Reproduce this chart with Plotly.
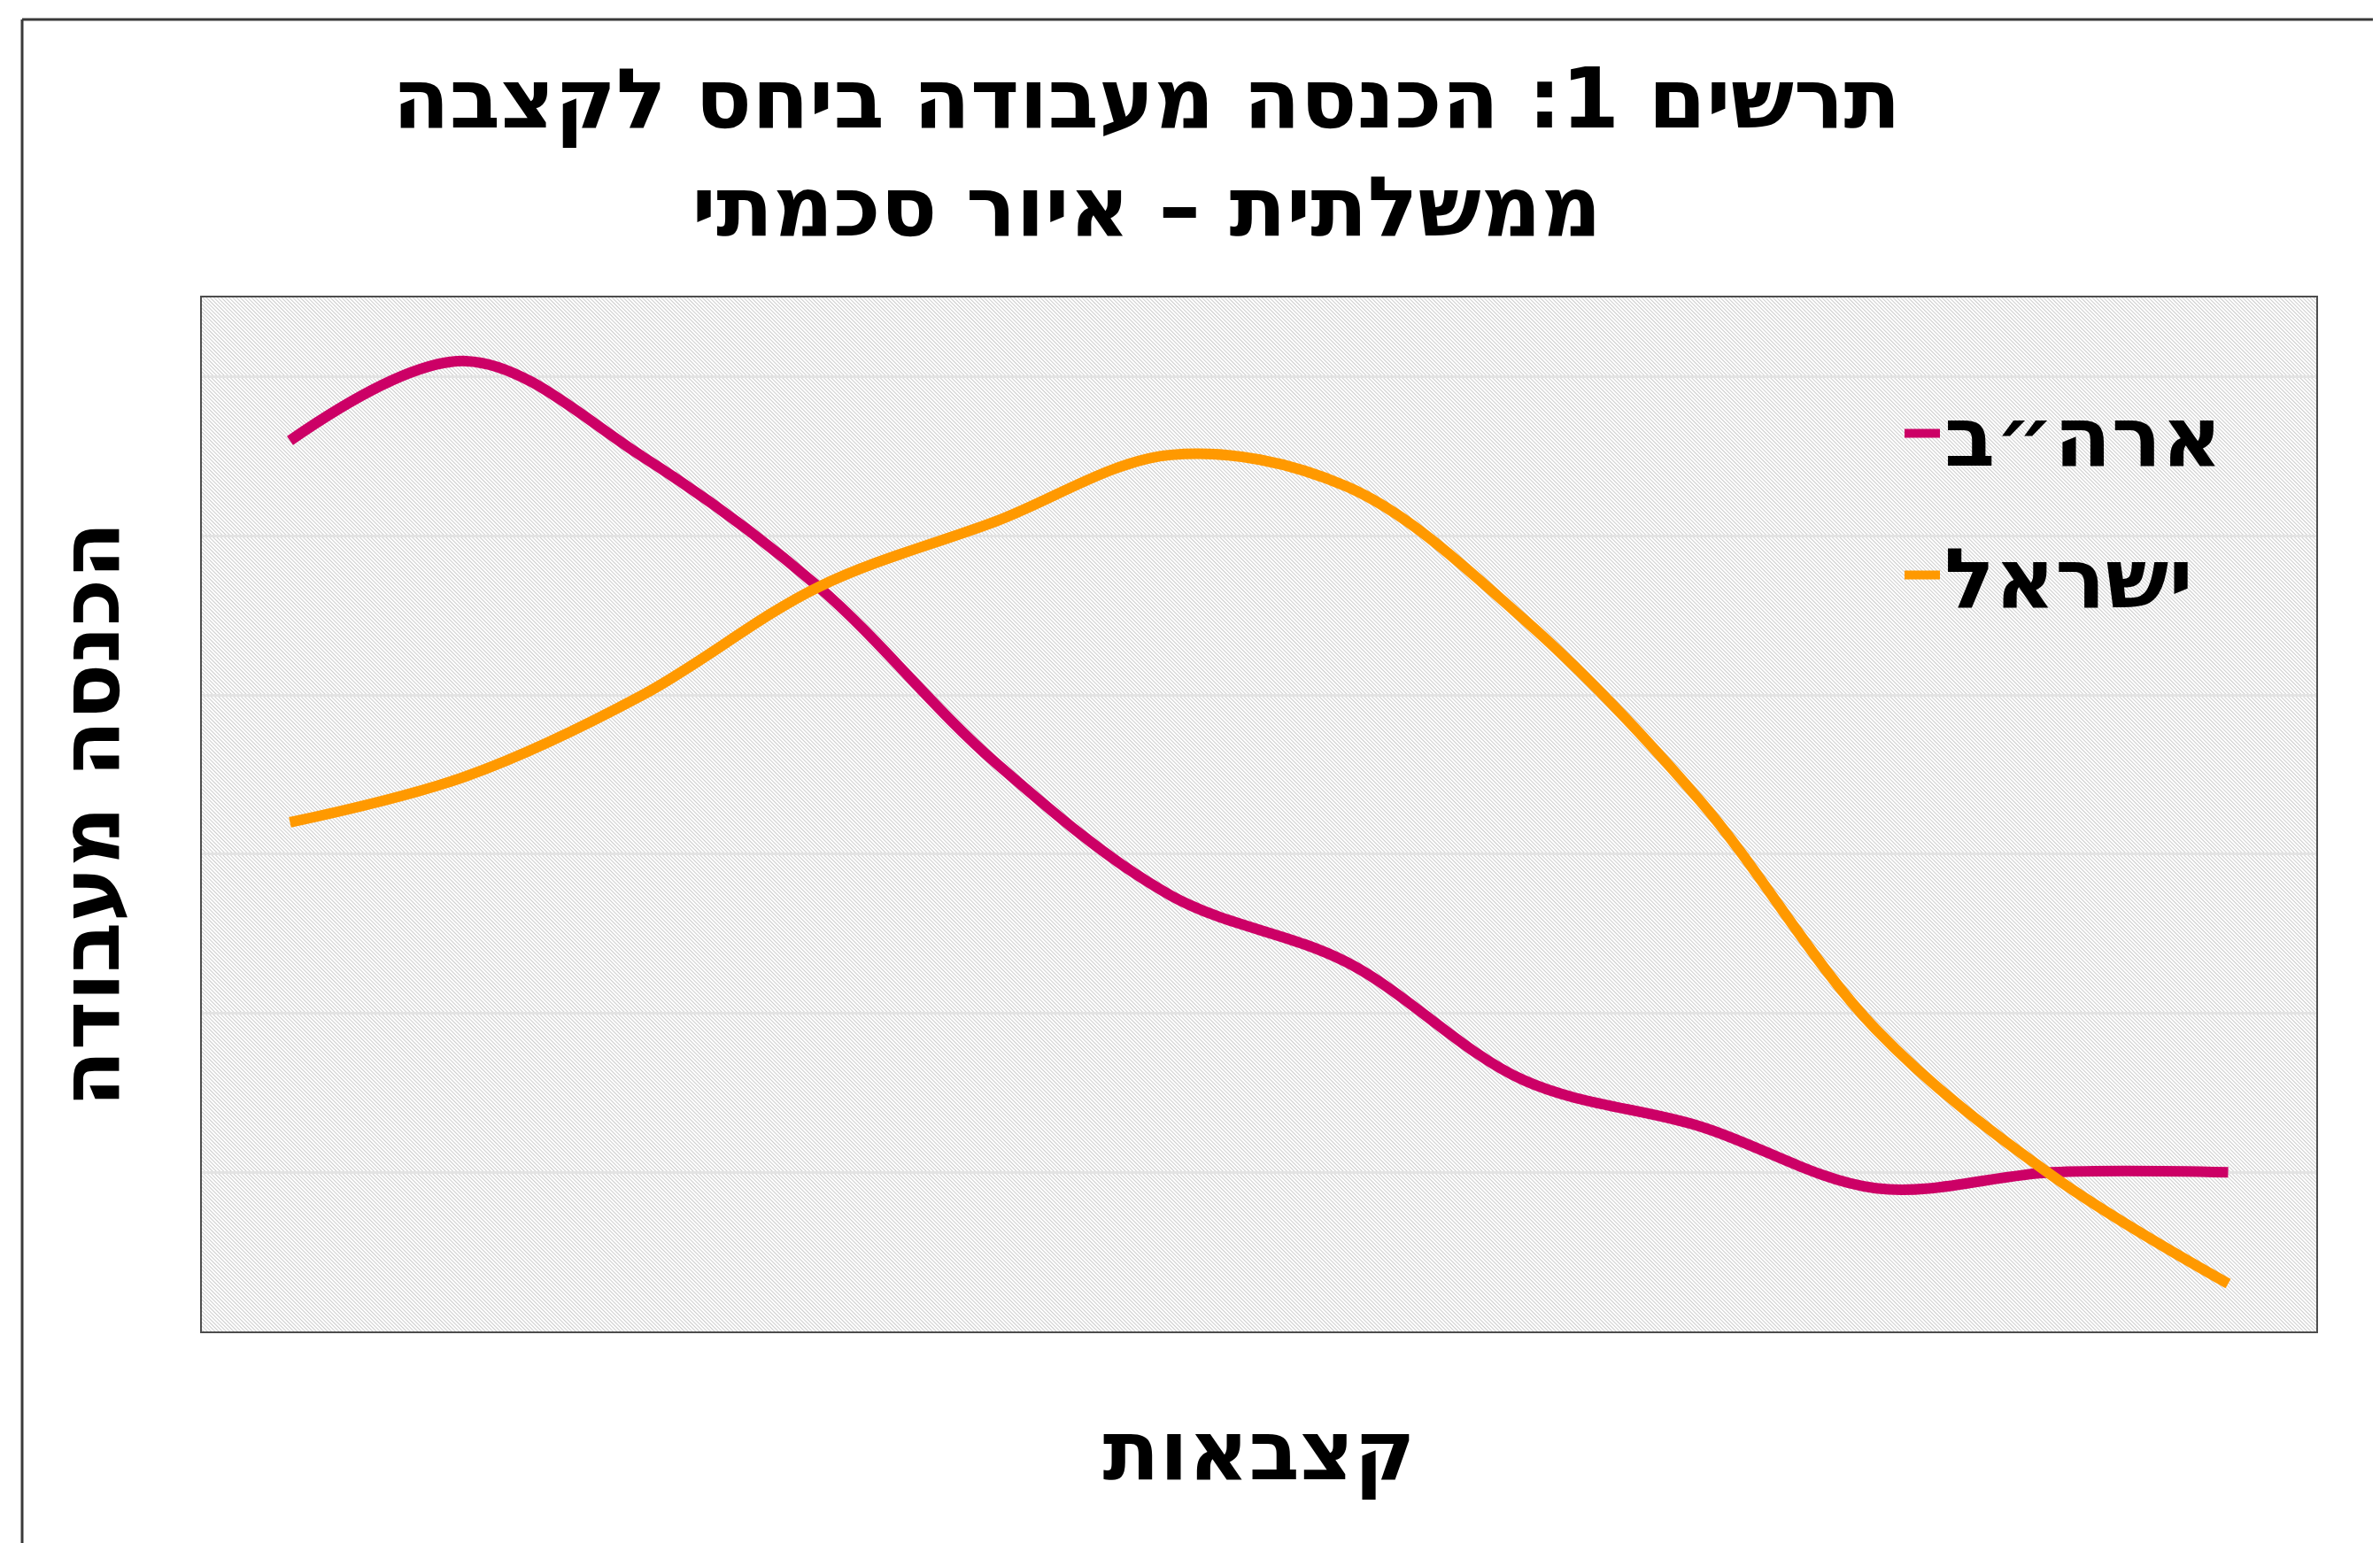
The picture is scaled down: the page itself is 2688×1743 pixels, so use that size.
import base64
import plotly.graph_objects as go

# ---- data ----
categories = list(range(1, 13))
usa_values = [5.60, 6.10, 5.50, 4.68, 3.58, 2.74, 2.32, 1.58, 1.29, 0.90, 1.00, 1.00]
israel_values = [3.20, 3.49, 4.00, 4.68, 5.09, 5.51, 5.31, 4.48, 3.34, 1.90, 0.98, 0.30]
series_names = ["ארה״ב", "ישראל"]
title_text = "תרשים 1: הכנסה מעבודה ביחס לקצבה<br>ממשלתית – איור סכמתי"
x_title = "קצבאות"
y_title = "הכנסה מעבודה"

X_RANGE = [categories[0] - 0.5, categories[-1] + 0.5]
Y_RANGE = [0, 6.5]

# page geometry (the html body adds an 8px margin)
OFF = 8
PAGE_W, PAGE_H = 2688, 1743
W, H = PAGE_W - OFF, PAGE_H - OFF
PLOT_L, PLOT_R, PLOT_T, PLOT_B = 228, 2616, 336, 1504  # page px
ML = PLOT_L - OFF
MT = PLOT_T - OFF
MR = W - (PLOT_R - OFF)
MB = H - (PLOT_B - OFF)
plot_w = PLOT_R - PLOT_L
plot_h = PLOT_B - PLOT_T

def px_x(p):
    return (p - PLOT_L) / plot_w

def px_y(p):
    return (PLOT_B - p) / plot_h

FONT = "DejaVu Sans"
PINK = "#CC0066"
ORANGE = "#FF9900"

# hatch background as an svg image
svg = (
    f'<svg xmlns="http://www.w3.org/2000/svg" width="{plot_w}" height="{plot_h}">'
    '<defs><pattern id="h" width="3" height="3" patternUnits="userSpaceOnUse" '
    'patternTransform="rotate(-45)">'
    '<rect x="0" y="0" width="1" height="3" fill="#cccccc"/></pattern></defs>'
    f'<rect width="{plot_w}" height="{plot_h}" fill="#ffffff"/>'
    f'<rect width="{plot_w}" height="{plot_h}" fill="url(#h)"/></svg>'
)
svg_uri = "data:image/svg+xml;base64," + base64.b64encode(svg.encode()).decode()

fig = go.Figure()
fig.add_trace(go.Scatter(
    x=categories, y=usa_values, name=series_names[0], mode="lines",
    line=dict(color=PINK, width=12, shape="spline", smoothing=1.0),
    legend="legend", showlegend=True,
))
fig.add_trace(go.Scatter(
    x=categories, y=israel_values, name=series_names[1], mode="lines",
    line=dict(color=ORANGE, width=12, shape="spline", smoothing=1.0),
    legend="legend2", showlegend=True,
))

legend_font = dict(family=FONT, size=94, color="black", weight="bold")
title_font = dict(family=FONT, size=94, color="black", weight="bold")

fig.update_layout(
    width=W, height=H, autosize=False,
    margin=dict(l=ML, r=MR, t=MT, b=MB),
    paper_bgcolor="white", plot_bgcolor="white",
    font=dict(family=FONT, color="black"),
    showlegend=True,
    title=dict(text=title_text, x=(1295 - OFF) / W, xanchor="center",
               y=1 - 136 / H, yanchor="middle", font=title_font),
    legend=dict(x=px_x(2146), xanchor="left", y=px_y(490), yanchor="middle",
                bgcolor="rgba(0,0,0,0)", borderwidth=0, font=legend_font,
                itemwidth=40),
    legend2=dict(x=px_x(2146), xanchor="left", y=px_y(650), yanchor="middle",
                 bgcolor="rgba(0,0,0,0)", borderwidth=0, font=legend_font,
                 itemwidth=40),
    xaxis=dict(range=X_RANGE, showticklabels=False, ticks="", showgrid=False,
               zeroline=False, showline=True, linecolor="#4d4d4d", linewidth=2,
               mirror=True,
               title=dict(text=x_title, standoff=100, font=title_font)),
    yaxis=dict(range=Y_RANGE, dtick=1, showticklabels=False, ticks="",
               showgrid=True, gridcolor="#e3e3e3", gridwidth=3,
               zeroline=False, showline=True, linecolor="#4d4d4d", linewidth=2,
               mirror=True,
               title=dict(text=y_title, standoff=60, font=title_font)),
    images=[dict(source=svg_uri, xref="x", yref="y",
                 x=X_RANGE[0], y=Y_RANGE[1],
                 sizex=X_RANGE[1] - X_RANGE[0], sizey=Y_RANGE[1] - Y_RANGE[0],
                 xanchor="left", yanchor="top", sizing="stretch", layer="below")],
    shapes=[
        dict(type="line", xref="paper", yref="paper",
             x0=px_x(25), x1=px_x(PAGE_W + 10), y0=px_y(22), y1=px_y(22),
             line=dict(color="#3a3a3a", width=3)),
        dict(type="line", xref="paper", yref="paper",
             x0=px_x(25), x1=px_x(25), y0=px_y(22), y1=px_y(PAGE_H + 10),
             line=dict(color="#3a3a3a", width=3)),
    ],
    hovermode=False,
)

fig.write_html("out.html")
